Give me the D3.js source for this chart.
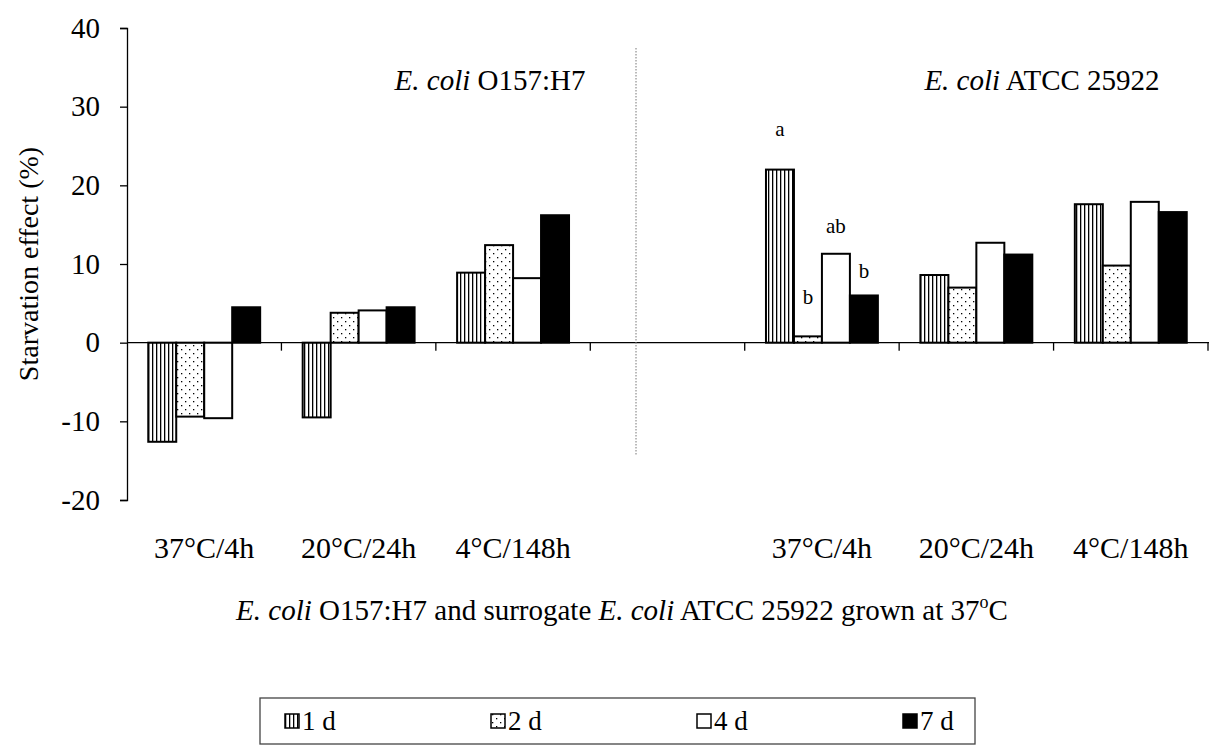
<!DOCTYPE html>
<html>
<head>
<meta charset="utf-8">
<script src="https://cdn.jsdelivr.net/npm/d3@7"></script>
<style>
  body { margin: 0; background: #fff; }
  svg { display: block; }
  svg text { font-family: "Liberation Serif", "Times New Roman", serif; fill: #000; }
</style>
</head>
<body>
<div id="graph-area"></div>
<script>
// slots along the x axis (one empty slot between the two strains)
var slots = ["o157-37", "o157-20", "o157-4", "gap", "atcc-37", "atcc-20", "atcc-4"];
var slotLabels = ["37°C/4h", "20°C/24h", "4°C/148h", "", "37°C/4h", "20°C/24h", "4°C/148h"];
var seriesNames = ["1 d", "2 d", "4 d", "7 d"];
var d1 = [-12.6, -9.5, 8.9, null, 22.0, 8.6, 17.6];
var d2 = [-9.4, 3.8, 12.4, null, 0.8, 7.0, 9.8];
var d4 = [-9.6, 4.1, 8.2, null, 11.3, 12.7, 17.9];
var d7 = [4.5, 4.5, 16.2, null, 6.0, 11.2, 16.6];
var yTicks = [-20, -10, 0, 10, 20, 30, 40];
var strainTitles = ["O157:H7", "ATCC 25922"];
// significance letters on the ATCC 37°C/4h group
var letterSlot = "atcc-37";
var letters = ["a", "b", "ab", "b"];

var width = 1209, height = 751;
var svg = d3.select('#graph-area').append('svg')
  .attr('width', width).attr('height', height);

var defs = svg.append('defs');
// vertical stripes for 1 d
var pStripe = defs.append('pattern').attr('id', 'pat-stripe')
  .attr('patternUnits', 'userSpaceOnUse').attr('width', 4).attr('height', 4);
pStripe.append('rect').attr('width', 4).attr('height', 4).attr('fill', '#fff');
pStripe.append('rect').attr('x', 0).attr('width', 1.3).attr('height', 4).attr('fill', '#000');
// sparse dots for 2 d
var pDot = defs.append('pattern').attr('id', 'pat-dot')
  .attr('patternUnits', 'userSpaceOnUse').attr('width', 8).attr('height', 8);
pDot.append('rect').attr('width', 8).attr('height', 8).attr('fill', '#fff');
pDot.append('rect').attr('x', 1).attr('y', 1).attr('width', 1.3).attr('height', 1.3).attr('fill', '#000');
pDot.append('rect').attr('x', 5).attr('y', 5).attr('width', 1.3).attr('height', 1.3).attr('fill', '#000');

var fills = ['url(#pat-stripe)', 'url(#pat-dot)', '#fff', '#000'];
var seriesData = [d1, d2, d4, d7];

var x0 = d3.scaleBand().domain(slots).range([127, 1208]);
var x1 = d3.scaleBand().domain(seriesNames).range([0, x0.bandwidth()]).paddingOuter(0.76);
var y = d3.scaleLinear().domain([-20, 40]).range([500, 28]);

// y axis
var yAxis = svg.append('g').attr('transform', 'translate(127,0)')
  .call(d3.axisLeft(y).tickValues(yTicks).tickSize(7).tickPadding(20)
    .tickFormat(function(d){ return String(d); }));
yAxis.select('.domain').attr('stroke', '#000').attr('stroke-width', 1.3);
yAxis.selectAll('.tick line').attr('stroke', '#000').attr('stroke-width', 1.3);
yAxis.selectAll('text').attr('font-size', 29);

svg.append('text')
  .attr('transform', 'translate(38,' + y(10) + ') rotate(-90)')
  .attr('text-anchor', 'middle').attr('font-size', 28)
  .text('Starvation effect (%)');

// bars
var flat = [];
slots.forEach(function(s, i){
  seriesData.forEach(function(arr, k){
    if(arr[i] !== null) flat.push({slot: s, series: seriesNames[k], k: k, v: arr[i]});
  });
});

svg.append('g').selectAll('rect').data(flat).enter().append('rect')
  .attr('x', function(d){ return x0(d.slot) + x1(d.series); })
  .attr('y', function(d){ return y(Math.max(0, d.v)); })
  .attr('width', x1.bandwidth())
  .attr('height', function(d){ return Math.abs(y(d.v) - y(0)); })
  .attr('fill', function(d){ return fills[d.k]; })
  .attr('stroke', '#000').attr('stroke-width', 2);

// x axis line and boundary ticks
svg.append('line').attr('x1', 127).attr('x2', width).attr('y1', y(0)).attr('y2', y(0))
  .attr('stroke', '#000').attr('stroke-width', 1.3);
svg.append('g').selectAll('line').data(slots).enter().append('line')
  .attr('x1', function(d){ return x0(d) + x0.bandwidth(); })
  .attr('x2', function(d){ return x0(d) + x0.bandwidth(); })
  .attr('y1', y(0)).attr('y2', y(0) + 8)
  .attr('stroke', '#000').attr('stroke-width', 1.3);

// category labels
svg.append('g').selectAll('text').data(slots).enter().append('text')
  .attr('x', function(d){ return x0(d) + x0.bandwidth() / 2; })
  .attr('y', 558).attr('text-anchor', 'middle').attr('font-size', 30)
  .text(function(d, i){ return slotLabels[i]; });

// dotted separator between strains
svg.append('line').attr('x1', 636).attr('x2', 636).attr('y1', 48).attr('y2', 455)
  .attr('stroke', '#777').attr('stroke-width', 1).attr('stroke-dasharray', '1.5,1.5');

// strain titles
var t1 = svg.append('text').attr('x', 490).attr('y', 90).attr('text-anchor', 'middle').attr('font-size', 29);
t1.append('tspan').attr('font-style', 'italic').text('E. coli');
t1.append('tspan').text(' ' + strainTitles[0]);
var t2 = svg.append('text').attr('x', 1042).attr('y', 90).attr('text-anchor', 'middle').attr('font-size', 29);
t2.append('tspan').attr('font-style', 'italic').text('E. coli');
t2.append('tspan').text(' ' + strainTitles[1]);

// significance letters
var letterGap = [34, 32, 21, 17];
svg.append('g').selectAll('text').data(letters).enter().append('text')
  .attr('x', function(d, k){ return x0(letterSlot) + x1(seriesNames[k]) + x1.bandwidth() / 2; })
  .attr('y', function(d, k){ return y(seriesData[k][slots.indexOf(letterSlot)]) - letterGap[k]; })
  .attr('text-anchor', 'middle').attr('font-size', 21)
  .text(function(d){ return d; });

// x axis title
var xt = svg.append('text').attr('x', 622).attr('y', 620).attr('text-anchor', 'middle').attr('font-size', 29);
xt.append('tspan').attr('font-style', 'italic').text('E. coli');
xt.append('tspan').text('  O157:H7 and surrogate ');
xt.append('tspan').attr('font-style', 'italic').text('E. coli');
xt.append('tspan').text('  ATCC 25922 grown at 37');
xt.append('tspan').attr('font-size', 18).attr('dy', -12).text('o');
xt.append('tspan').attr('dy', 12).text('C');

// legend
var legend = svg.append('g');
legend.append('rect').attr('x', 260).attr('y', 698).attr('width', 715).attr('height', 46)
  .attr('fill', '#fff').attr('stroke', '#444').attr('stroke-width', 1.3);
var item = legend.selectAll('g').data(seriesNames).enter().append('g')
  .attr('transform', function(d, k){ return 'translate(' + (285 + k * 206) + ',721)'; });
item.append('rect').attr('x', 0).attr('y', -7).attr('width', 14).attr('height', 14)
  .attr('fill', function(d, k){ return fills[k]; }).attr('stroke', '#000').attr('stroke-width', 1.5);
item.append('text').attr('x', 17).attr('y', 9).attr('font-size', 27).text(function(d){ return d; });
</script>
</body>
</html>
